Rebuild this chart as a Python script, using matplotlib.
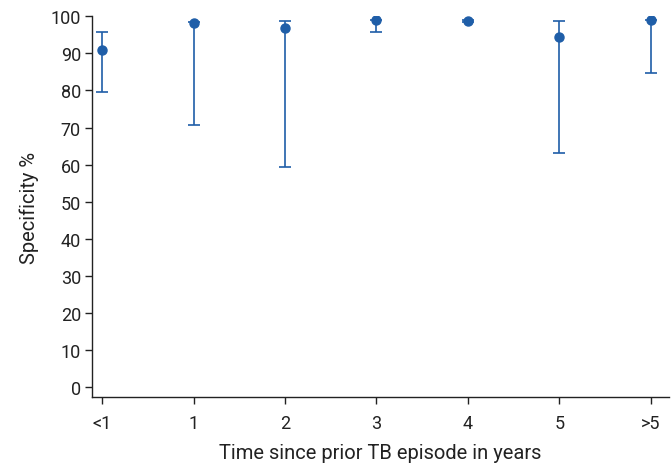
import matplotlib
matplotlib.use("Agg")
import matplotlib.pyplot as plt
import numpy as np

categories = ["<1", "1", "2", "3", "4", "5", ">5"]
specificity = [90.8, 98.1, 96.8, 98.9, 98.8, 94.4, 98.9]
ci_lower = [79.7, 70.8, 59.4, 95.7, 98.6, 63.2, 84.7]
ci_upper = [95.8, 98.6, 98.7, 99.0, 98.9, 98.7, 99.0]

plt.rcParams['font.family'] = ['Roboto', 'DejaVu Sans']
fig = plt.figure(figsize=(6.72, 4.64), dpi=100)
ax = fig.add_axes([92/672, (464-398)/464, (669-92)/672, (398-17)/464])

x = np.arange(len(categories))
y = np.array(specificity)
yerr = [y - np.array(ci_lower), np.array(ci_upper) - y]
color = "#1f5ea8"
ax.errorbar(x, y, yerr=yerr, fmt='o', color=color, ms=6.5, elinewidth=1.2,
            capsize=4, capthick=1.2)

ax.set_xlim(-0.11, 6.2)
ax.set_ylim(-2.7, 100.1)
ax.set_xticks(x)
ax.set_xticklabels(categories)
ax.set_yticks(range(0, 101, 10))
for s in ["top", "right"]:
    ax.spines[s].set_visible(False)
for s in ["left", "bottom"]:
    ax.spines[s].set_color("#222222")
    ax.spines[s].set_linewidth(1.0)
ax.tick_params(labelsize=13, color="#222222", length=5, width=1, labelcolor="#222222")
ax.tick_params(axis='x', pad=7)
ax.tick_params(axis='y', pad=3)
ax.set_xlabel("Time since prior TB episode in years", fontsize=14.5, color="#222222", labelpad=8)
ax.set_ylabel("Specificity %", fontsize=14.5, color="#222222", labelpad=8)
fig.savefig("out.png", dpi=100)
